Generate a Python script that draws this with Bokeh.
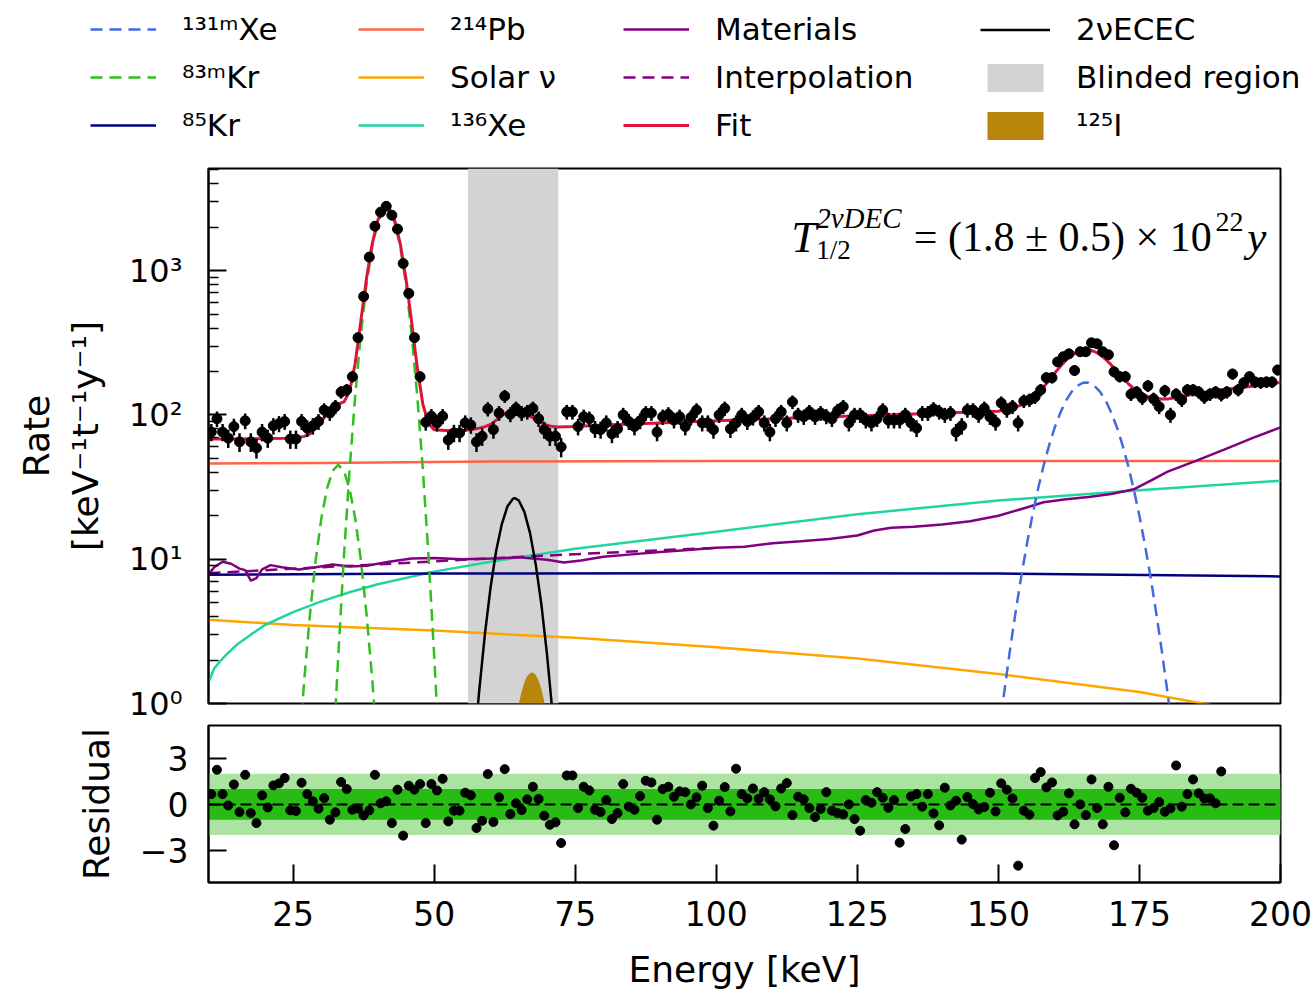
import numpy as np
from bokeh.plotting import figure
from bokeh.models import Legend, LegendItem, Label, BoxAnnotation, Span, FixedTicker, Range1d
from bokeh.layouts import column
from bokeh.embed import file_html
from bokeh.resources import INLINE

# ---------------- data ----------------
bin_first, bin_last, bin_step = 10.5, 199.5, 1.0
energy = np.arange(bin_first, bin_last + 0.5 * bin_step, bin_step)

rate = [
    76, 94, 76, 69, 83, 65, 91, 65, 59, 76,
    69, 84, 87, 90, 68, 68, 90, 81, 84, 90,
    108, 103, 114, 144, 149, 184, 343, 661, 1240, 2030,
    2540, 2790, 2420, 1940, 1120, 695, 343, 184, 89, 98,
    88, 98, 67, 75, 75, 88, 85, 65, 71, 110,
    79, 103, 135, 101, 111, 103, 105, 111, 94, 79,
    71, 71, 60, 105, 105, 83, 97, 94, 80, 79,
    88, 74, 80, 100, 90, 83, 91, 103, 103, 76,
    97, 101, 92, 97, 83, 96, 108, 88, 88, 79,
    100, 111, 80, 88, 100, 90, 96, 105, 88, 76,
    94, 105, 88, 123, 100, 97, 105, 97, 103, 98,
    94, 107, 114, 88, 100, 100, 92, 88, 94, 108,
    92, 92, 92, 100, 88, 81, 103, 103, 110, 105,
    100, 103, 76, 84, 108, 108, 100, 111, 97, 89,
    121, 108, 114, 88, 125, 127, 133, 149, 181, 181,
    233, 253, 265, 203, 274, 274, 316, 311, 274, 261,
    199, 184, 184, 139, 144, 131, 159, 129, 114, 147,
    100, 139, 127, 149, 149, 144, 133, 139, 144, 138,
    144, 192, 149, 167, 184, 169, 167, 169, 169, 205,
]
exposure = 0.7  # t*y, sets the Poisson error bars

residual = [
    0.67, 2.26, 0.67, -0.07, 1.3, -0.5, 1.93, -0.57, -1.22, 0.59,
    -0.2, 1.24, 1.37, 1.72, -0.39, -0.43, 1.41, 0.67, 0.2, -0.28,
    0.41, -1.0, -0.52, 1.46, 1.0, -0.35, -0.28, -0.72, -0.39, 1.93,
    0.07, 0.2, -1.22, 0.96, -2.04, 1.22, 0.96, 1.33, -1.22, 1.33,
    0.91, 1.67, -1.11, -0.41, -0.41, 0.76, 0.59, -1.54, -1.07, 1.98,
    -1.15, 0.46, 2.3, -0.63, 0.07, -0.37, 0.33, 1.15, 0.35, -0.74,
    -1.33, -1.17, -2.52, 1.89, 1.89, -0.24, 1.15, 0.91, -0.35, -0.5,
    0.28, -0.96, -0.57, 1.33, -0.15, -0.35, 0.54, 1.54, 1.43, -1.0,
    1.0, 1.15, 0.5, 0.85,
    0.8, 0.0, 0.46, 1.22, -0.24, -1.39, 0.24, 1.13, -0.46, 2.33,
    0.67, 0.39, 1.04, 0.37, 0.8, 0.33, -0.13, 1.04, 1.39, -0.7,
    0.5, 0.33, -0.24, -0.83, -0.3, 0.8, -0.41, -0.57, -0.65, 0.0,
    -0.96, -1.72, 0.28, 0.11, 0.8, 0.43, -0.22, 0.28, -2.5, -1.61,
    0.52, 0.67, -0.15, 0.67, -0.59, -1.37, 1.09, -0.07, 0.24, -2.3,
    0.48, 0.02, -0.33, -0.17, 0.76, -0.46, 1.37, 0.96, 0.39, -4.0,
    -0.41, -0.67, 1.72, 2.11, 1.11, 1.43, -0.72, -0.48, 0.72, -1.3,
    0.0, -0.7, 1.63, -0.24, -1.3, 1.15, -2.67, 0.43, -0.52, 1.02,
    0.76, 0.43, -0.41, -0.24, 0.15, -0.48, -0.26, 2.54, -0.15, 0.67,
    1.63, 0.72, 0.39, 0.39, 0.07, 2.15,
]

fit_E = [10, 15, 20, 25, 27, 28, 29, 30, 31, 32,
         33, 34, 35, 36, 37, 38, 39, 40, 41, 41.5,
         42, 43, 44, 45, 46, 47, 48, 49, 50, 52,
         55, 57, 58, 59, 60, 61, 62, 63, 64, 65,
         66, 67, 68, 69, 70, 71, 72, 75, 80, 90,
         100, 110, 120, 130, 140, 150, 152, 153, 154, 155,
         156, 157, 158, 159, 160, 161, 162, 163, 164, 165,
         166, 167, 168, 169, 170, 171, 172, 173, 174, 175,
         176, 177, 178, 179, 180, 182, 185, 190, 195, 200]
fit_R = [68, 68, 68.5, 69, 71, 74, 81, 90, 102, 113,
         119, 123, 145, 228, 447, 880, 1527, 2229, 2700, 2765,
         2700, 2230, 1527, 878, 441, 212, 118, 87, 79, 78,
         78, 79.5, 81, 83, 86, 92, 99, 104, 107, 108,
         104, 98, 93, 88, 85, 83, 82.5, 83, 85, 88,
         91, 94, 97, 100, 103, 106, 111, 113, 117, 122,
         131, 141, 156, 174, 195, 217, 240, 259, 274, 282,
         283, 275, 262, 243, 222, 201, 182, 165, 152, 143,
         136, 132, 130, 129, 129, 133, 140, 150, 158, 168]

xe131m_E = [150.5, 151, 152, 153, 154, 155, 156, 157, 158, 159, 160, 161, 162, 163, 164, 165,
            165.5, 166, 167, 168, 169, 170, 171, 172, 173, 174, 175, 176, 177, 178, 179, 180, 180.5]
xe131m_R = [0.82, 1.17, 2.26, 4.18, 7.4, 12.4, 19.9, 30.4, 44.4, 61.8, 82.2, 104, 126, 145, 159, 167,
            168, 167, 159, 145, 126, 104, 82.2, 61.8, 44.4, 30.4, 19.9, 12.4, 7.4, 4.18, 2.26, 1.17, 0.82]

kr83m_low_E = [26.5, 27, 28, 29, 30, 31, 32, 33, 34, 35, 36, 37, 38, 39, 39.5]
kr83m_low_R = [0.83, 1.5, 4.2, 9.9, 19.2, 30.8, 41, 45, 41, 30.8, 19.2, 9.9, 4.2, 1.5, 0.83]
kr83m_main_E = [32.5, 33, 34, 35, 36, 37, 38, 39, 40, 41, 41.5, 42, 43, 44, 45, 46, 47, 48, 49, 50, 50.5]
kr83m_main_R = [0.90, 2.14, 10.4, 41.4, 135.5, 364, 802, 1451, 2154, 2624, 2690, 2624, 2154, 1451,
                802, 364, 135.5, 41.4, 10.4, 2.14, 0.90]

kr85_E = [10, 50, 100, 150, 200]
kr85_R = [7.8, 7.95, 8.0, 7.95, 7.6]

pb214_E = [10, 30, 60, 100, 150, 200]
pb214_R = [46, 46.5, 47.5, 48, 48, 48]

solar_E = [10, 25, 50, 75, 100, 125, 150, 175, 200]
solar_R = [3.8, 3.5, 3.2, 2.85, 2.45, 2.05, 1.6, 1.2, 0.8]

xe136_E = [10, 11, 12, 13, 15, 17.5, 20, 25, 30, 35, 40, 50, 60, 75, 100, 125, 150, 175, 200]
xe136_R = [1.4, 1.75, 1.95, 2.15, 2.55, 3.0, 3.5, 4.3, 5.1, 5.9, 6.7, 8.2, 9.6, 11.8, 15.5, 20.5, 25.5, 30, 35]

materials_E = [10, 11, 12.5, 14, 15.5, 16.5, 17.5, 18.5, 19.5, 21, 23, 26, 29, 32, 35, 38, 42, 46, 50,
               55, 60, 65, 70, 73, 76, 80, 85, 90, 95, 100, 105, 110, 115, 120, 125, 128, 131, 135,
               140, 145, 150, 155, 158, 162, 166, 170, 174, 177, 180, 185, 190, 195, 200]
materials_R = [7.8, 8.8, 9.6, 9.3, 8.6, 8.4, 7.1, 7.4, 8.5, 9.1, 8.8, 8.5, 8.8, 9.2, 8.9, 9.0, 9.6, 10.1,
               10.2, 10.0, 10.1, 10.3, 9.9, 9.5, 9.8, 10.4, 10.8, 11.2, 11.6, 12.0, 12.2, 12.9, 13.3,
               13.8, 14.6, 15.8, 16.5, 16.8, 17.4, 18.3, 20.0, 22.8, 24.8, 26.0, 27.0, 28.3, 30.5, 35,
               40.5, 48, 57.5, 69, 82]

interp_E = [10, 25, 40, 55, 70, 85, 100]
interp_R = [8.0, 8.6, 9.2, 9.9, 10.6, 11.3, 12.0]

ecec_E = [57.5, 58, 59, 60, 61, 62, 63, 64, 64.3, 65, 66, 67, 68, 69, 70, 71]
ecec_R = [0.76, 1.25, 3.05, 6.4, 11.5, 17.6, 23.3, 26.3, 26.5, 25.5, 21.2, 15.1, 9.2, 4.85, 2.18, 0.84]

i125_E = [65, 65.5, 66, 66.5, 67, 67.5, 68, 68.5, 69, 69.5]
i125_R = [1.0, 1.21, 1.41, 1.55, 1.63, 1.64, 1.58, 1.44, 1.26, 1.04]

blind_lo, blind_hi = 56, 72
x_lo, x_hi = 10, 200
y_lo, y_hi = 1, 5100
res_lo, res_hi = -5.1, 5.15

# tick positions and labels
rate_major_ticks = [1, 10, 100, 1000]
rate_major_labels = ["10⁰", "10¹", "10²", "10³"]
rate_minor_ticks = [2, 3, 4, 5, 6, 7, 8, 9, 20, 30, 40, 50, 60, 70, 80, 90,
                    200, 300, 400, 500, 600, 700, 800, 900, 2000, 3000, 4000, 5000]
energy_ticks = [25, 50, 75, 100, 125, 150, 175, 200]
resid_ticks = [-3, 0, 3]
resid_labels = ["−3", "0", "3"]

rate_arr = np.array(rate, dtype=float)
err = np.sqrt(rate_arr / exposure)

FONT = "DejaVu Sans"
SERIF = "Liberation Serif"
LW = 2.5
DASH = "12 7"
COL = dict(xe131="#4169e1", kr83="#2fbf1f", kr85="#000080", pb="#ff6347", solar="#ffa500",
           xe136="#20d4a4", mat="#800080", fit="#dc143c", ecec="black", blind="#d3d3d3", i125="#b8860b")


def draw_components(fig):
    """Draw all model components on fig; returns the renderers keyed by name."""
    rr = {}
    rr["blind"] = fig.quad(left=[blind_lo], right=[blind_hi], bottom=[y_lo], top=[y_hi],
                           fill_color=COL["blind"], line_color=None)
    rr["i125"] = fig.varea(x=i125_E, y1=y_lo, y2=i125_R, fill_color=COL["i125"])
    rr["pb"] = fig.line(pb214_E, pb214_R, line_color=COL["pb"], line_width=LW)
    rr["solar"] = fig.line(solar_E, solar_R, line_color=COL["solar"], line_width=LW)
    rr["xe136"] = fig.line(xe136_E, xe136_R, line_color=COL["xe136"], line_width=LW)
    rr["kr85"] = fig.line(kr85_E, kr85_R, line_color=COL["kr85"], line_width=LW)
    rr["mat"] = fig.line(materials_E, materials_R, line_color=COL["mat"], line_width=LW)
    rr["interp"] = fig.line(interp_E, interp_R, line_color=COL["mat"], line_width=LW, line_dash=DASH)
    rr["kr83a"] = fig.line(kr83m_low_E, kr83m_low_R, line_color=COL["kr83"], line_width=LW, line_dash=DASH)
    rr["kr83"] = fig.line(kr83m_main_E, kr83m_main_R, line_color=COL["kr83"], line_width=LW, line_dash=DASH)
    rr["xe131"] = fig.line(xe131m_E, xe131m_R, line_color=COL["xe131"], line_width=LW, line_dash=DASH)
    rr["ecec"] = fig.line(ecec_E, ecec_R, line_color=COL["ecec"], line_width=LW)
    rr["fit"] = fig.line(fit_E, fit_R, line_color=COL["fit"], line_width=3)
    return rr


# ---------------- legend strip (its own root; ranges keep its lines out of view) ----------------
leg = figure(width=1312, height=158, x_range=Range1d(-3, -2), y_range=Range1d(-3, -2),
             x_axis_location=None, y_axis_location=None, output_backend="svg", toolbar_location=None,
             min_border_left=0, min_border_right=0, min_border_top=0, min_border_bottom=0)
leg.grid.visible = False
leg.outline_line_color = None
lr = draw_components(leg)

LEG_VY = 15


def add_legend(items, vx, gh=26, gw=66):
    lg = Legend(items=items, location=(vx, LEG_VY), orientation="vertical", padding=0, margin=0,
                spacing=12, border_line_color=None, background_fill_alpha=0,
                label_text_font=FONT, label_text_font_size="31px", label_text_color="black",
                glyph_width=gw, glyph_height=gh, label_standoff=26, label_height=36)
    leg.add_layout(lg, "center")


add_legend([LegendItem(label="¹³¹ᵐXe", renderers=[lr["xe131"]]),
            LegendItem(label="⁸³ᵐKr", renderers=[lr["kr83"]]),
            LegendItem(label="⁸⁵Kr", renderers=[lr["kr85"]])], 90)
add_legend([LegendItem(label="²¹⁴Pb", renderers=[lr["pb"]]),
            LegendItem(label="Solar ν", renderers=[lr["solar"]]),
            LegendItem(label="¹³⁶Xe", renderers=[lr["xe136"]])], 358)
add_legend([LegendItem(label="Materials", renderers=[lr["mat"]]),
            LegendItem(label="Interpolation", renderers=[lr["interp"]]),
            LegendItem(label="Fit", renderers=[lr["fit"]])], 623)
add_legend([LegendItem(label="2νECEC", renderers=[lr["ecec"]]),
            LegendItem(label="Blinded region", renderers=[lr["blind"]]),
            LegendItem(label="¹²⁵I", renderers=[lr["i125"]])], 980, gh=35, gw=70)

# ---------------- main panel ----------------
p = figure(width=1312, height=566, x_range=Range1d(x_lo, x_hi), y_range=Range1d(y_lo, y_hi),
           y_axis_type="log", x_axis_location=None, output_backend="svg", toolbar_location=None,
           min_border_left=208, min_border_right=32, min_border_top=10, min_border_bottom=21)
p.grid.visible = False
p.outline_line_color = "black"
p.outline_line_width = 2

ya = p.yaxis[0]
ya.ticker = FixedTicker(ticks=rate_major_ticks, minor_ticks=rate_minor_ticks)
ya.major_label_overrides = dict(zip(rate_major_ticks, rate_major_labels))
ya.axis_line_width = 2
ya.major_tick_in = 18
ya.major_tick_out = 0
ya.minor_tick_in = 10
ya.minor_tick_out = 0
ya.major_tick_line_width = 2
ya.minor_tick_line_width = 1.5
ya.major_label_text_font = FONT
ya.major_label_text_font_size = "32px"
ya.major_label_text_color = "black"
ya.major_label_standoff = 26
ya.axis_label = "Rate\n[keV⁻¹t⁻¹y⁻¹]"
ya.axis_label_text_font = FONT
ya.axis_label_text_font_size = "36px"
ya.axis_label_text_font_style = "normal"
ya.axis_label_text_color = "black"
ya.axis_label_standoff = 20

draw_components(p)
p.segment(x0=energy, y0=rate_arr - err, x1=energy, y1=rate_arr + err, line_color="black", line_width=2.5)
p.scatter(energy, rate_arr, size=10, color="black")

# half-life annotation (data-space anchors)
for txt, x, y, size, style in [
    ("T", 113.3, 1720, "45px", "italic"),
    ("2νDEC", 117.7, 2300, "29px", "italic"),
    ("1/2", 117.7, 1390, "27px", "normal"),
    ("= (1.8 ± 0.5) × 10", 135.0, 1720, "42px", "normal"),
    ("22", 188.5, 2165, "28px", "normal"),
    ("y", 194.1, 1720, "43px", "italic"),
]:
    p.add_layout(Label(x=x, y=y, text=txt, text_font=SERIF, text_font_size=size,
                       text_font_style=style, text_baseline="alphabetic", text_color="black"))

# ---------------- residual panel ----------------
r = figure(width=1312, height=269, x_range=p.x_range, y_range=Range1d(res_lo, res_hi),
           output_backend="svg", toolbar_location=None,
           min_border_left=208, min_border_right=32, min_border_top=1, min_border_bottom=111)
r.grid.visible = False
r.outline_line_color = "black"
r.outline_line_width = 2
r.add_layout(BoxAnnotation(bottom=-2, top=2, fill_color="#abe3a1", fill_alpha=1, line_color=None, level="underlay"))
r.add_layout(BoxAnnotation(bottom=-1, top=1, fill_color="#27bb14", fill_alpha=1, line_color=None, level="underlay"))
r.add_layout(Span(location=0, dimension="width", line_color="black", line_width=2, line_dash="11 5"))
r.scatter(energy, residual, size=9, color="black")

xa = r.xaxis[0]
xa.ticker = FixedTicker(ticks=energy_ticks)
ya2 = r.yaxis[0]
ya2.ticker = FixedTicker(ticks=resid_ticks)
ya2.major_label_overrides = dict(zip(resid_ticks, resid_labels))
for ax in (xa, ya2):
    ax.axis_line_width = 2
    ax.major_tick_in = 18
    ax.major_tick_out = 0
    ax.major_tick_line_width = 2
    ax.minor_tick_line_color = None
    ax.major_label_text_font = FONT
    ax.major_label_text_font_size = "33px"
    ax.major_label_text_color = "black"
    ax.axis_label_text_font = FONT
    ax.axis_label_text_font_size = "36px"
    ax.axis_label_text_font_style = "normal"
    ax.axis_label_text_color = "black"
xa.major_label_standoff = 18
xa.axis_label = "Energy [keV]"
xa.axis_label_standoff = 20
ya2.major_label_standoff = 20
ya2.axis_label = "Residual"
ya2.axis_label_standoff = 20

plots = column(p, r, spacing=0)
open("out.html", "w").write(file_html([leg, plots], INLINE))
